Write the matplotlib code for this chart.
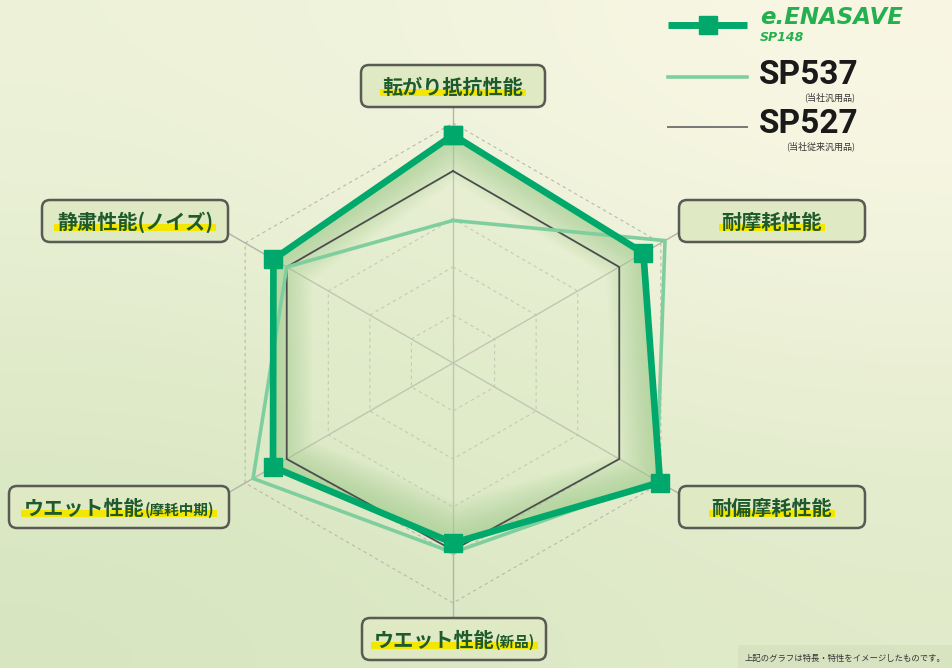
import numpy as np
import matplotlib
matplotlib.use("Agg")
import matplotlib.pyplot as plt
from matplotlib.patches import FancyBboxPatch, Rectangle, Polygon

plt.rcParams['font.family'] = ['Noto Sans CJK JP', 'DejaVu Sans']

# ---- data ----
categories = ["転がり抵抗性能", "耐摩耗性能", "耐偏摩耗性能", "ウエット性能", "ウエット性能", "静粛性能(ノイズ)"]
category_notes = ["", "", "", "(新品)", "(摩耗中期)", ""]
enasave = [4.75, 4.58, 4.98, 3.75, 4.33, 4.32]
sp537 = [2.97, 5.10, 4.90, 3.95, 4.81, 4.00]
sp527 = [4.0, 4.0, 4.0, 3.9, 4.0, 4.0]
rings = [1, 2, 3, 4, 5]
series_names = ["e.ENASAVE", "SP537", "SP527"]
series_notes = ["SP148", "(当社汎用品)", "(当社従来汎用品)"]
footnote = "上記のグラフは特長・特性をイメージしたものです。"

GREEN = '#00a86b'
LIGHT = '#7fcf9e'
GRAY = '#4d4d4d'
LABEL_GREEN = '#1f5a2c'

W, H = 952, 668
fig = plt.figure(figsize=(W / 100, H / 100), dpi=100)

# background gradient
bg = fig.add_axes([0, 0, 1, 1], zorder=-2)
grad = np.array([[[0.93, 0.95, 0.85], [0.98, 0.97, 0.90]],
                 [[0.84, 0.90, 0.75], [0.88, 0.92, 0.79]]])
bg.imshow(grad, extent=[0, 1, 0, 1], aspect='auto', interpolation='bicubic')
bg.axis('off')

# radar axes: 1 unit = 48 px, centre at (453, 363)
cx, cy, unit = 453, 363, 48
ax = fig.add_axes([0, 0, 1, 1])
ax.set_xlim(-cx / unit, (W - cx) / unit)
ax.set_ylim(-(H - cy) / unit, cy / unit)
ax.axis('off')
ax.patch.set_alpha(0)

angles = np.deg2rad([90, 30, -30, -90, -150, 150])


def closed_xy(vals):
    r = np.asarray(vals, dtype=float)
    x = r * np.cos(angles)
    y = r * np.sin(angles)
    return np.append(x, x[0]), np.append(y, y[0])


# grid
for r in rings:
    gx, gy = closed_xy([r] * 6)
    ax.plot(gx, gy, ls=(0, (3, 3)), color='#b9b9ab', lw=0.8, zorder=1)
for a in angles:
    ax.plot([0, 5.5 * np.cos(a)], [0, 5.5 * np.sin(a)], color='#b3b3a8', lw=1.0, zorder=1)

# e.ENASAVE fill with soft inner glow
ex, ey = closed_xy(enasave)
poly = Polygon(np.column_stack([ex, ey]), closed=True, fc='#dcebc6', ec='none', alpha=0.35, zorder=2)
ax.add_patch(poly)
for lw in np.linspace(56, 4, 14):
    glow, = ax.plot(ex, ey, color='#8cc47a', lw=lw, alpha=0.045, solid_joinstyle='miter', zorder=2)
    glow.set_clip_path(poly)

# series lines
x, y = closed_xy(sp527)
ax.plot(x, y, color=GRAY, lw=1.3, zorder=3)
x, y = closed_xy(sp537)
ax.plot(x, y, color=LIGHT, lw=2.6, zorder=4)
ax.plot(ex, ey, color=GREEN, lw=4.8, marker='s', ms=13, mec=GREEN, mfc=GREEN, zorder=5)

# overlay in pixel coords
ov = fig.add_axes([0, 0, 1, 1], zorder=3)
ov.set_xlim(0, W)
ov.set_ylim(H, 0)
ov.axis('off')
ov.patch.set_alpha(0)

box_centers = [(453, 86), (772, 221), (772, 507), (454, 639), (119, 507), (135, 221)]
box_widths = [184, 186, 186, 184, 220, 186]
box_h = 42

renderer = fig.canvas.get_renderer()
for (bx, by), bw, name, note in zip(box_centers, box_widths, categories, category_notes):
    ov.add_patch(FancyBboxPatch((bx - bw / 2, by - box_h / 2), bw, box_h,
                                boxstyle="round,pad=0,rounding_size=8",
                                fc='#dfeac4', ec='#5a5a55', lw=1.8, zorder=1))
    base = by + 8
    t1 = ov.text(0, base, name, fontsize=14.5, weight='bold', color=LABEL_GREEN,
                 ha='left', va='baseline', zorder=4)
    t2 = ov.text(0, base, note, fontsize=10.5, weight='bold', color=LABEL_GREEN,
                 ha='left', va='baseline', zorder=4)
    w1 = t1.get_window_extent(renderer).width
    w2 = t2.get_window_extent(renderer).width if note else 0
    left = bx - (w1 + w2) / 2
    t1.set_x(left)
    t2.set_x(left + w1)
    ov.add_patch(Rectangle((left - 3, base - 5), w1 + w2 + 6, 7, fc='#f3e600', ec='none', zorder=2))

# legend
ov.plot([668, 747], [25, 25], color=GREEN, lw=5, solid_capstyle='butt')
ov.plot([708], [25], marker='s', ms=13, color=GREEN)
ov.text(760, 24, series_names[0], fontsize=16.5, style='italic', weight='bold',
        color='#25b04f', family='DejaVu Sans', va='baseline')
ov.text(760, 41, series_notes[0], fontsize=9, style='italic', weight='bold',
        color='#25b04f', family='DejaVu Sans', va='baseline')

ov.plot([668, 747], [77, 77], color=LIGHT, lw=2.6)
ov.text(759, 84, series_names[1], fontsize=24, weight='bold', color='#1a1a1a',
        family='Roboto', va='baseline')
ov.text(855, 100, series_notes[1], fontsize=6.5, color='#333333', ha='right', va='baseline')

ov.plot([668, 747], [127, 127], color='#777777', lw=1.4)
ov.text(759, 133, series_names[2], fontsize=24, weight='bold', color='#1a1a1a',
        family='Roboto', va='baseline')
ov.text(855, 149, series_notes[2], fontsize=6.5, color='#333333', ha='right', va='baseline')

ov.add_patch(Rectangle((738, 645), W - 738, H - 645, fc='#c9d6b0', ec='none', alpha=0.35, zorder=0))
ov.text(945, 661, footnote, fontsize=6, color='#333333', ha='right', va='baseline')

fig.savefig('out.png', dpi=100)
plt.close(fig)
